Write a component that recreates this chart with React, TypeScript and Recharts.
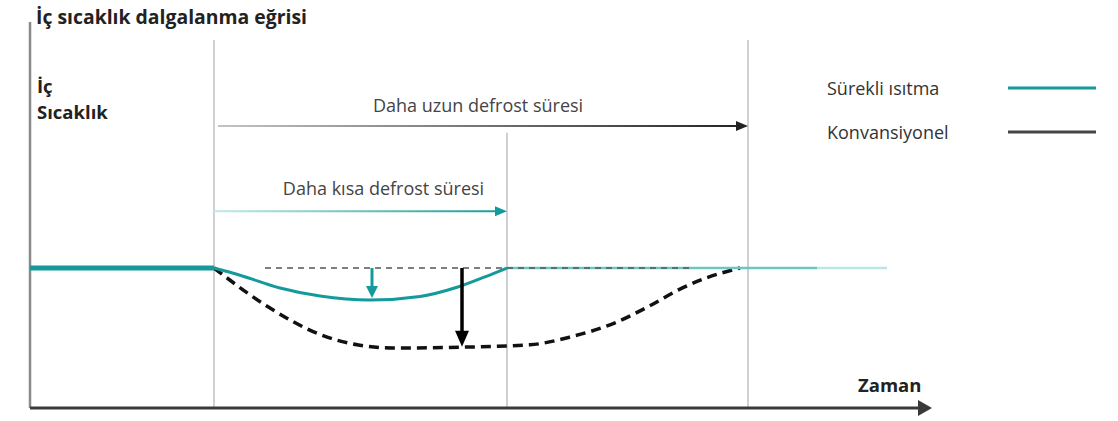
import React from "react";
import {
  LineChart,
  Line,
  XAxis,
  YAxis,
  ReferenceLine,
  Legend,
} from "recharts";

// time axis runs 0..107, temperature 0..97 (arbitrary units of the sketch)
const steadyTime = [0, 18.4];
const steadyTemp = [35, 35];

const tealTime = [18.4, 21, 25, 29, 34, 39, 42.7, 45.5, 47.7];
const tealTemp = [35, 33.2, 30, 28, 27, 27.9, 30.2, 32.8, 35];

const afterTime = [47.7, 78.7];
const afterTemp = [35, 35];
const fadeTime = [78.7, 85.7];
const fadeTemp = [35, 35];

const convTime = [18.4, 23.8, 29.1, 32.7, 36.3, 43, 50, 54.1, 58.5, 61.8, 64.9, 67.5, 71];
const convTemp = [35, 25.3, 18.3, 15.8, 15, 15.2, 15.8, 17.8, 21.3, 25.3, 29.6, 32.4, 35];

const setPoint = 35;
const setLineFrom = 23.5;
const setLineTo = 66;

const defrostStart = 18.4;
const shortEnd = 47.7;
const longEnd = 71.8;
const gridTop = 92;
const shortGridTop = 68.8;

const tealDropAt = 34.2;
const tealDropTo = 27.5;
const convDropAt = 43.2;
const convDropTo = 15.3;

const longArrowY = 70.5;
const shortArrowY = 49.2;
const axisEnd = 90.2;
const yAxisTop = 96.5;

const TEAL = "#159a9b";

const pts = (ts: number[], vs: number[]) => ts.map((t, i) => ({ t, v: vs[i] }));

type ArrowOpts = {
  color: string;
  from?: string;
  width: number;
  len: number;
  half: number;
  label?: string;
  labelDx?: number;
  labelGap?: number;
  id?: string;
};

const arrowShape = (o: ArrowOpts) => (p: any) => {
  const { x1, y1, x2, y2 } = p;
  const dx = x2 - x1;
  const dy = y2 - y1;
  const L = Math.hypot(dx, dy) || 1;
  const ux = dx / L;
  const uy = dy / L;
  const bx = x2 - ux * o.len;
  const by = y2 - uy * o.len;
  const nx = -uy;
  const ny = ux;
  const stroke = o.from ? `url(#${o.id})` : o.color;
  return (
    <g>
      {o.from && (
        <defs>
          <linearGradient id={o.id} gradientUnits="userSpaceOnUse" x1={x1} y1={y1} x2={x2} y2={y1}>
            <stop offset="0%" stopColor={o.from} />
            <stop offset="100%" stopColor={o.color} />
          </linearGradient>
        </defs>
      )}
      <line x1={x1} y1={y1} x2={bx + ux * 2} y2={by + uy * 2} stroke={stroke} strokeWidth={o.width} />
      <polygon
        points={`${x2},${y2} ${bx + nx * o.half},${by + ny * o.half} ${bx - nx * o.half},${by - ny * o.half}`}
        fill={o.color}
      />
      {o.label && (
        <text
          x={(x1 + x2) / 2 + (o.labelDx ?? 0)}
          y={y1 - (o.labelGap ?? 14)}
          textAnchor="middle"
          fontFamily="Open Sans"
          fontSize={18}
          fill="#444"
        >
          {o.label}
        </text>
      )}
    </g>
  );
};

const legendNames = ["Sürekli ısıtma", "Konvansiyonel"];
const legendColors = [TEAL, "#444"];

const renderLegend = () => (
  <div style={{ fontFamily: "Open Sans", fontSize: 18, color: "#333" }}>
    {legendNames.map((n, i) => (
      <div key={n} style={{ display: "flex", alignItems: "center", height: 44 }}>
        <span style={{ width: 181 }}>{n}</span>
        <svg width={90} height={6}>
          <line x1={0} y1={3} x2={88} y2={3} stroke={legendColors[i]} strokeWidth={3} />
        </svg>
      </div>
    ))}
  </div>
);

const grid = (x: number, top: number) => (
  <ReferenceLine
    segment={[{ x, y: 0 }, { x, y: top }]}
    stroke="#d0d0d0"
    strokeWidth={2}
    ifOverflow="visible"
  />
);

export default function App() {
  return (
    <div style={{ position: "absolute", left: 0, top: 0, width: 1118, height: 421, background: "#fff" }}>
      <LineChart width={1118} height={421} margin={{ top: 20, right: 18, bottom: 13, left: 30 }}>
        <XAxis dataKey="t" type="number" domain={[0, 107]} hide allowDataOverflow />
        <YAxis dataKey="v" type="number" domain={[0, 97]} hide allowDataOverflow />
        {grid(defrostStart, gridTop)}
        {grid(shortEnd, shortGridTop)}
        {grid(longEnd, gridTop)}
        <ReferenceLine
          segment={[{ x: 0, y: 0 }, { x: 0, y: yAxisTop }]}
          stroke="#8a8a8a"
          strokeWidth={2.5}
          ifOverflow="visible"
        />
        <ReferenceLine
          segment={[{ x: 0, y: 0 }, { x: axisEnd, y: 0 }]}
          ifOverflow="visible"
          shape={arrowShape({ color: "#3a3a3a", width: 3, len: 14, half: 8 })}
        />
        <Line
          data={pts(convTime, convTemp)}
          dataKey="v"
          name="Konvansiyonel"
          type="monotone"
          stroke="#111"
          strokeWidth={3.5}
          strokeDasharray="10 6"
          dot={false}
          isAnimationActive={false}
        />
        <Line data={pts(steadyTime, steadyTemp)} dataKey="v" type="linear" stroke={TEAL} strokeWidth={5} dot={false} legendType="none" isAnimationActive={false} />
        <Line
          data={pts(tealTime, tealTemp)}
          dataKey="v"
          name="Sürekli ısıtma"
          type="monotone"
          stroke={TEAL}
          strokeWidth={3}
          dot={false}
          isAnimationActive={false}
        />
        <Line data={pts(afterTime, afterTemp)} dataKey="v" type="linear" stroke="#6cc6c6" strokeWidth={2.5} dot={false} legendType="none" isAnimationActive={false} />
        <Line data={pts(fadeTime, fadeTemp)} dataKey="v" type="linear" stroke="#bde5e5" strokeWidth={2.5} dot={false} legendType="none" isAnimationActive={false} />
        <ReferenceLine
          segment={[{ x: setLineFrom, y: setPoint }, { x: setLineTo, y: setPoint }]}
          stroke="#555"
          strokeWidth={1.5}
          strokeDasharray="6 5"
        />
        <ReferenceLine
          segment={[{ x: tealDropAt, y: setPoint }, { x: tealDropAt, y: tealDropTo }]}
          shape={arrowShape({ color: TEAL, width: 3, len: 12, half: 6 })}
        />
        <ReferenceLine
          segment={[{ x: convDropAt, y: setPoint }, { x: convDropAt, y: convDropTo }]}
          shape={arrowShape({ color: "#000", width: 3.5, len: 16, half: 7 })}
        />
        <ReferenceLine
          segment={[{ x: defrostStart + 0.4, y: longArrowY }, { x: longEnd, y: longArrowY }]}
          shape={arrowShape({
            color: "#222",
            from: "#c4c4c4",
            id: "longGrad",
            width: 2,
            len: 12,
            half: 5,
            label: "Daha uzun defrost süresi",
            labelDx: -5,
            labelGap: 14,
          })}
        />
        <ReferenceLine
          segment={[{ x: defrostStart, y: shortArrowY }, { x: shortEnd, y: shortArrowY }]}
          shape={arrowShape({
            color: TEAL,
            from: "#c2e8e8",
            id: "shortGrad",
            width: 2,
            len: 12,
            half: 5,
            label: "Daha kısa defrost süresi",
            labelDx: 23,
            labelGap: 16,
          })}
        />
        <Legend
          layout="vertical"
          align="center"
          verticalAlign="middle"
          content={renderLegend}
          wrapperStyle={{ left: 827, top: 66, width: 290 }}
        />
      </LineChart>
      <svg
        width={1118}
        height={421}
        style={{ position: "absolute", left: 0, top: 0, pointerEvents: "none" }}
        fontFamily="Open Sans"
        fontWeight="bold"
        fill="#222"
      >
        <text x={36} y={24} fontSize={19.4}>İç sıcaklık dalgalanma eğrisi</text>
        <text x={37} y={93} fontSize={18.5}>İç</text>
        <text x={37} y={119} fontSize={18.5}>Sıcaklık</text>
        <text x={858} y={392} fontSize={18.5}>Zaman</text>
      </svg>
    </div>
  );
}
